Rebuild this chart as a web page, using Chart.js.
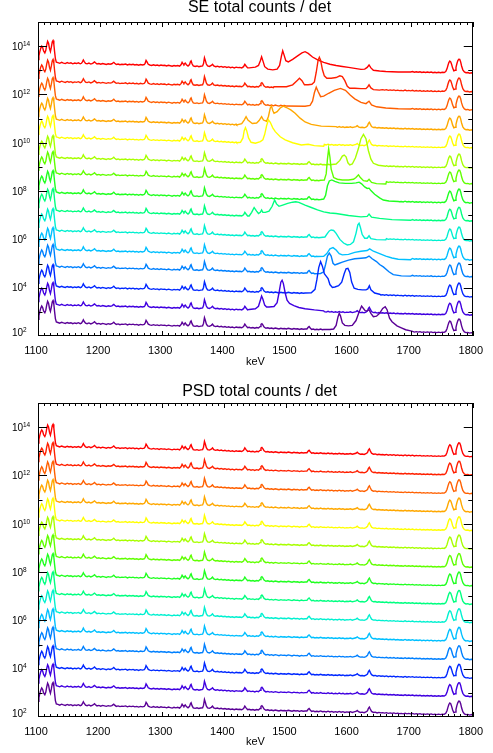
<!DOCTYPE html>
<html><head><meta charset="utf-8">
<script src="https://cdn.jsdelivr.net/npm/chart.js@4.4.1/dist/chart.umd.min.js"></script>
<style>
html,body{margin:0;padding:0;background:#fff;}
#wrap{position:relative;width:493px;height:753px;}
.box{position:absolute;left:0;width:493px;}
</style></head><body>
<div id="wrap">
<div class="box" style="top:0;height:370px"><canvas id="c1" width="493" height="370"></canvas></div>
<div class="box" style="top:370px;height:383px"><canvas id="c2" width="493" height="383"></canvas></div>
</div>
<script>
// ---------- data ----------
// energy grid (keV) of the common spectrum
const keV = [1100,1101.5,1103,1104.5,1106,1107.5,1109,1111,1112.5,1114,1115.5,1117,1118.5,1120,1121.5,1123,1124.2,1125.5,1126.8,1128,1129.5,
1132,1135,1138,1141,1144,1147,1150,1153,1156,1159,1162,1165,1168,1170,1171.5,1173,1174.5,1176.5,1179,1182,1185,1188,1189.5,1191,1192.5,1195,1198,
1201,1204,1207,1210,1213,1216,1219,1220.5,1222,1223.5,1226,1229,1232,1235,1238,1241,1244,1247,1250,1253,1256,1259,1262,1265,1268,1271,1272.5,1274,1275.5,1277.5,1280,1283,1286,1289,1292,1295,1298,
1301,1304,1307,1310,1313,1316,1319,1322,1325,1328,1330.5,1332,1333.5,1335,1337,1339,1341.5,1344,1345.5,1346.5,1348,1350,1353,1356,1359,1362,1365,1366.5,1368,1369.5,1371,1373,1376,1379,1381,1383,1386,1389,1392,1395,1398,
1401,1404,1407,1410,1413,1416,1419,1422,1425,1428,1431,1433,1435,1437.5,1440,1443,1446,1449,1452,1455,1457.5,1459,1460.5,1462,1464,1467,1470,1473,1476,1479,1482,1485,1488,1491,1494,1497,
1500,1503,1506,1509,1512,1515,1518,1521,1524,1527,1530,1533,1535,1536.5,1538,1540.5,1543,1546,1549,1552,1555,1558,1561,1564,1567,1570,1573,1576,1579,1582,1585,1588,1591,1594,1597,
1600,1603,1606,1609,1612,1614,1616,1619,1622,1625,1628,1630.5,1632,1633.5,1635,1637,1640,1643,1646,1649,1652,1655,1658,1661,1664,1667,1670,1673,1676,1679,1682,1685,1688,1691,1694,1697,
1700,1703,1706,1709,1712,1715,1718,1721,1724,1727,1730,1733,1736,1739,1742,1745,1748,1751,1754,1756.5,1758.5,1760,1761.5,1763,1764.5,1766,1767.5,1769.5,1771.5,1773,1774.5,1776,1777.5,1779,1780.5,1782,1784,1786.5,1789,1792,1795,1798,1800];
// log10 offset of the common spectrum relative to each curve's plateau level
const baseShape = [0.15,0.30,0.48,0.62,0.70,0.64,0.50,0.42,0.52,0.74,0.90,0.82,0.60,0.48,0.66,0.88,0.93,0.78,0.45,0.18,0.04,
0.02,-0.01,0.03,0.00,-0.02,0.02,-0.01,0.01,-0.03,0.00,-0.02,0.01,-0.03,-0.01,0.05,0.13,0.06,-0.01,-0.03,0.00,-0.04,-0.01,0.02,0.05,0.01,-0.04,-0.02,
-0.05,-0.02,-0.04,-0.06,-0.03,-0.05,-0.03,0.00,0.03,-0.01,-0.06,-0.04,-0.07,-0.05,-0.06,-0.04,-0.08,-0.05,-0.07,-0.05,-0.08,-0.06,-0.09,-0.06,-0.08,-0.06,-0.01,0.11,0.05,-0.05,-0.08,-0.10,-0.07,-0.10,-0.08,-0.11,-0.08,
-0.10,-0.09,-0.12,-0.09,-0.11,-0.13,-0.10,-0.12,-0.10,-0.13,-0.06,0.03,-0.03,-0.06,0.00,-0.07,-0.12,-0.06,0.06,0.09,-0.03,-0.12,-0.14,-0.12,-0.15,-0.13,-0.12,-0.02,0.22,0.10,-0.04,-0.12,-0.14,-0.10,-0.05,-0.12,-0.15,-0.13,-0.16,-0.14,-0.17,
-0.15,-0.18,-0.16,-0.19,-0.17,-0.20,-0.17,-0.19,-0.18,-0.20,-0.15,-0.05,-0.12,-0.20,-0.18,-0.21,-0.19,-0.22,-0.19,-0.21,-0.15,-0.06,-0.03,-0.08,-0.17,-0.22,-0.20,-0.23,-0.21,-0.24,-0.21,-0.23,-0.25,-0.22,-0.24,-0.23,
-0.25,-0.22,-0.24,-0.26,-0.23,-0.25,-0.24,-0.27,-0.24,-0.26,-0.25,-0.25,-0.18,-0.15,-0.20,-0.27,-0.25,-0.28,-0.26,-0.28,-0.25,-0.28,-0.27,-0.29,-0.26,-0.29,-0.27,-0.30,-0.28,-0.30,-0.27,-0.30,-0.28,-0.31,-0.29,
-0.30,-0.28,-0.31,-0.29,-0.27,-0.23,-0.28,-0.31,-0.30,-0.32,-0.29,-0.24,-0.14,-0.09,-0.17,-0.27,-0.31,-0.30,-0.33,-0.31,-0.33,-0.32,-0.34,-0.32,-0.35,-0.33,-0.35,-0.33,-0.36,-0.34,-0.36,-0.35,-0.37,-0.34,-0.37,-0.35,
-0.37,-0.35,-0.38,-0.36,-0.38,-0.36,-0.39,-0.37,-0.39,-0.37,-0.39,-0.37,-0.40,-0.38,-0.40,-0.38,-0.40,-0.38,-0.39,-0.35,-0.24,-0.10,0.02,0.08,0.05,-0.06,-0.20,-0.32,-0.30,-0.18,-0.02,0.10,0.16,0.15,0.05,-0.12,-0.28,-0.37,-0.40,-0.39,-0.42,-0.40,-0.42];

// plateau level (log10 counts) of each of the 15 detector curves, bottom to top
const seLevels  = [2.54,3.28,4.03,4.86,5.56,6.35,7.17,7.92,8.71,9.37,10.20,10.94,11.77,12.52,13.30];
const psdLevels = [2.50,3.26,4.02,4.79,5.55,6.32,7.08,7.84,8.61,9.37,10.13,10.90,11.66,12.43,13.19];

// extra structure of the SE curves: [keV, log10 offset from plateau], replaces the common spectrum over its span
const seFeatures = [
 [[1560,-0.27],[1570,-0.27],[1576,-0.25],[1580,-0.1],[1583,0.25],[1585,0.4],[1587,0.3],[1590,0.0],[1594,-0.1],[1600,-0.12],[1606,-0.1],[1612,0.1],[1617,0.45],[1621,0.7],[1624,0.6],[1627,0.5],[1630,0.5],[1633,0.55],[1636,0.4],[1640,0.26],[1645,0.28],[1650,0.4],[1655,0.6],[1659,0.67],[1662,0.55],[1666,0.2],[1670,0.05],[1678,-0.12],[1685,-0.2],[1692,-0.28],[1700,-0.33]],
 [[1440,-0.18],[1450,-0.15],[1455,-0.05],[1458,0.2],[1460,0.37],[1462,0.25],[1465,0.0],[1468,-0.08],[1472,-0.08],[1480,-0.06],[1485,0.1],[1488,0.5],[1491,0.95],[1493,1.03],[1495,0.9],[1498,0.5],[1501,0.2],[1505,0.07],[1512,-0.02],[1520,-0.1],[1530,-0.15],[1545,-0.2],[1560,-0.24]],
 [[1530,-0.25],[1540,-0.24],[1546,-0.1],[1549,0.3],[1552,0.8],[1555,1.05],[1558,0.85],[1561,0.55],[1564,0.45],[1567,0.35],[1570,0.1],[1574,-0.02],[1578,0.0],[1584,0.05],[1589,0.2],[1593,0.55],[1596,0.75],[1599,0.77],[1602,0.6],[1605,0.2],[1609,-0.05],[1615,-0.1],[1622,-0.12],[1628,-0.12],[1631,-0.08],[1633.5,0.05],[1636,-0.12],[1642,-0.25],[1650,-0.3]],
 [[1545,-0.28],[1555,-0.27],[1560,-0.2],[1563,0.1],[1566,0.45],[1569,0.57],[1572,0.45],[1575,0.15],[1578,0.08],[1582,0.12],[1590,0.2],[1600,0.28],[1610,0.34],[1620,0.36],[1628,0.38],[1633,0.45],[1638,0.34],[1645,0.22],[1650,0.1],[1656,0.0],[1665,-0.2],[1672,-0.32],[1685,-0.37],[1700,-0.38]],
 [[1550,-0.27],[1560,-0.26],[1565,-0.15],[1570,0.05],[1575,0.1],[1580,0.0],[1585,-0.15],[1590,-0.2],[1600,-0.18],[1610,-0.1],[1620,-0.05],[1630,-0.02],[1634,0.05],[1640,-0.05],[1650,-0.15],[1660,-0.25],[1670,-0.33],[1680,-0.38],[1700,-0.4]],
 [[1555,-0.27],[1562,-0.25],[1566,-0.1],[1569,0.0],[1572,0.04],[1576,0.02],[1580,-0.1],[1586,-0.35],[1592,-0.5],[1598,-0.58],[1603,-0.56],[1608,-0.45],[1612,-0.1],[1615,0.25],[1617,0.32],[1619,0.15],[1622,-0.15],[1626,-0.3],[1630,-0.3],[1633,-0.2],[1636,-0.32],[1645,-0.36],[1660,-0.37]],
 [[1440,-0.2],[1444,-0.05],[1448,0.15],[1452,0.0],[1455,-0.1],[1458,-0.05],[1460,0.05],[1462,-0.05],[1466,-0.05],[1472,0.0],[1477,0.2],[1481,0.46],[1484,0.3],[1488,0.2],[1494,0.25],[1502,0.32],[1510,0.37],[1515,0.39],[1520,0.36],[1530,0.25],[1540,0.15],[1550,0.05],[1560,-0.03],[1570,-0.08],[1580,-0.1],[1600,-0.18],[1620,-0.24],[1630,-0.22],[1633,-0.12],[1637,-0.25],[1650,-0.3],[1670,-0.35],[1700,-0.38]],
 [[1555,-0.27],[1560,-0.25],[1563,-0.1],[1566,0.3],[1569,0.5],[1573,0.54],[1578,0.48],[1585,0.42],[1595,0.4],[1605,0.4],[1612,0.42],[1617,0.45],[1621,0.38],[1626,0.25],[1630,0.19],[1633,0.2],[1636,0.1],[1642,-0.05],[1650,-0.2],[1656,-0.29],[1665,-0.33],[1680,-0.35]],
 [[1555,-0.26],[1561,-0.25],[1564,0.0],[1566,0.6],[1568,1.04],[1570,0.7],[1572,0.2],[1576,-0.15],[1582,-0.22],[1590,-0.25],[1600,-0.25],[1608,-0.22],[1612,-0.15],[1616,-0.04],[1619,-0.15],[1624,-0.28],[1630,-0.3],[1633,-0.22],[1637,-0.35],[1645,-0.4],[1660,-0.42]],
 [[1570,-0.28],[1580,-0.25],[1586,-0.1],[1590,0.08],[1593,0.12],[1596,0.05],[1599,-0.2],[1602,-0.29],[1606,-0.25],[1611,0.0],[1616,0.4],[1620,0.8],[1624,0.98],[1628,0.8],[1632,0.3],[1636,-0.05],[1640,-0.22],[1648,-0.3],[1660,-0.34]],
 [[1420,-0.2],[1426,-0.18],[1430,0.0],[1432,0.3],[1434,0.43],[1436,0.3],[1439,0.0],[1443,-0.18],[1450,-0.22],[1458,-0.15],[1462,-0.08],[1465,0.15],[1468,0.5],[1471,0.75],[1474,0.65],[1478,0.42],[1482,0.26],[1490,0.05],[1498,-0.08],[1510,-0.2],[1524,-0.29],[1535,-0.26],[1545,-0.32],[1560,-0.34]],
 [[1420,-0.2],[1428,-0.15],[1432,0.0],[1435,0.14],[1438,0.0],[1445,-0.14],[1452,-0.12],[1456,-0.02],[1460,0.14],[1463,0.0],[1468,-0.05],[1471,0.15],[1474,0.5],[1476,0.58],[1478,0.4],[1480,0.28],[1485,0.35],[1490,0.5],[1495,0.58],[1500,0.52],[1507,0.42],[1514,0.28],[1522,0.08],[1530,-0.08],[1540,-0.18],[1556,-0.25],[1580,-0.27]],
 [[1500,-0.25],[1530,-0.26],[1538,-0.22],[1542,-0.05],[1545,0.3],[1548,0.53],[1551,0.35],[1555,0.14],[1560,0.16],[1568,0.28],[1577,0.4],[1587,0.48],[1595,0.4],[1603,0.2],[1610,0.05],[1620,-0.1],[1628,-0.15],[1633,-0.05],[1637,-0.2],[1645,-0.28],[1660,-0.33],[1680,-0.36],[1700,-0.37]],
 [[1480,-0.2],[1500,-0.2],[1510,-0.12],[1517,0.05],[1521,0.15],[1525,0.05],[1529,-0.12],[1535,-0.12],[1541,-0.1],[1545,0.0],[1548,0.4],[1551,0.9],[1553,1.02],[1555,0.9],[1558,0.5],[1561,0.25],[1565,0.15],[1572,0.15],[1580,0.18],[1586,0.25],[1590,0.22],[1594,0.05],[1598,-0.18],[1602,-0.26],[1610,-0.26],[1620,-0.28],[1628,-0.28],[1631,-0.2],[1633,-0.12],[1636,-0.25],[1640,-0.32],[1650,-0.34]],
 [[1440,-0.2],[1450,-0.17],[1455,-0.1],[1458,0.1],[1460,0.26],[1462,0.1],[1465,-0.15],[1470,-0.25],[1478,-0.28],[1485,-0.25],[1489,-0.1],[1492,0.3],[1494,0.51],[1496,0.35],[1499,0.1],[1503,0.05],[1510,0.15],[1518,0.3],[1525,0.42],[1530,0.47],[1535,0.4],[1542,0.25],[1551,0.12],[1560,0.03],[1570,-0.05],[1580,-0.1],[1590,-0.14],[1600,-0.18],[1610,-0.22],[1620,-0.26],[1626,-0.25],[1630,-0.18],[1633,-0.08],[1636,-0.2],[1640,-0.3],[1650,-0.33],[1660,-0.35],[1670,-0.36],[1680,-0.37],[1700,-0.37]]
];

const lineColors = ['#5a0096','#4000e0','#0028ff','#0080ff','#00c0ff','#00f0d0','#00ff80','#20ff20','#60ff00','#a8ff00','#ffff00','#ffa800','#ff6000','#ff2000','#ff0000'];
const yExponents = [2,4,6,8,10,12,14];
const panelTitles = ['SE total counts / det','PSD total counts / det'];
const xTitle = 'keV';

// ---------- drawing ----------
const FONT = '"Liberation Sans", Arial, Helvetica, sans-serif';

function buildLine(level, feats) {
  const pts = [];
  const lo = feats.length ? feats[0][0] : Infinity;
  const hi = feats.length ? feats[feats.length-1][0] : -Infinity;
  let inserted = false;
  keV.forEach((e, j) => {
    if (e < lo || e > hi) pts.push({x: e, y: Math.pow(10, level + baseShape[j])});
    else if (!inserted) { feats.forEach(f => pts.push({x: f[0], y: Math.pow(10, level + f[1])})); inserted = true; }
  });
  return pts;
}

const framePlugin = {
  id: 'frame',
  afterDraw(chart) {
    const {ctx, chartArea: a, scales: {x, y}} = chart;
    ctx.save();
    ctx.strokeStyle = '#000';
    ctx.lineWidth = 1;
    ctx.strokeRect(Math.round(a.left) + 0.5, Math.round(a.top) + 0.5, Math.round(a.right - a.left) - 1, Math.round(a.bottom - a.top) - 1);
    ctx.beginPath();
    for (let v = x.min; v <= x.max; v += 10) {
      const px = Math.round(x.getPixelForValue(v)) + 0.5;
      const len = (v % 100 === 0) ? 5 : 3;
      ctx.moveTo(px, a.bottom); ctx.lineTo(px, a.bottom - len);
      ctx.moveTo(px, a.top); ctx.lineTo(px, a.top + len);
    }
    for (let e = 3; e <= 14; e++) {
      const py = Math.round(y.getPixelForValue(Math.pow(10, e))) + 0.5;
      const len = (e % 2 === 0) ? 9 : 4.5;
      ctx.moveTo(a.left, py); ctx.lineTo(a.left + len, py);
      ctx.moveTo(a.right, py); ctx.lineTo(a.right - len, py);
    }
    ctx.stroke();
    ctx.fillStyle = '#000';
    ctx.textBaseline = 'middle';
    yExponents.forEach(e => {
      let py = y.getPixelForValue(Math.pow(10, e));
      if (py > a.bottom - 4) py = a.bottom - 4;
      ctx.font = '10px ' + FONT;
      ctx.textAlign = 'right';
      ctx.fillText('10', a.left - 15, py + 1);
      ctx.font = '6.5px ' + FONT;
      ctx.textAlign = 'left';
      ctx.fillText(String(e), a.left - 15, py - 2);
    });
    ctx.restore();
  }
};

function makeChart(id, title, levels, feats, titlePad, axisH, keVPad) {
  const datasets = levels.map((lv, i) => ({
    data: buildLine(lv, feats ? feats[i] : []),
    borderColor: lineColors[i],
    borderWidth: 1.4,
    pointRadius: 0,
    tension: 0,
    fill: false
  }));
  return new Chart(document.getElementById(id), {
    type: 'line',
    data: {datasets},
    options: {
      responsive: false, animation: false, devicePixelRatio: 1,
      layout: {padding: {left: 38, right: 12, top: 0, bottom: 0}},
      plugins: {
        legend: {display: false}, tooltip: {enabled: false},
        title: {display: true, text: title, color: '#000',
          font: {family: FONT, size: 16, weight: 'normal', lineHeight: 1}, padding: titlePad}
      },
      scales: {
        x: {type: 'linear', min: 1100, max: 1800,
          afterFit: s => { s.height = axisH; },
          grid: {display: false, drawTicks: false}, border: {display: false},
          ticks: {stepSize: 100, autoSkip: false, maxRotation: 0, padding: 8, labelOffset: -2, color: '#000',
            font: {family: FONT, size: 11}, callback: v => String(v)},
          title: {display: true, text: xTitle, color: '#000', font: {family: FONT, size: 11},
            padding: {top: 0, bottom: keVPad}}},
        y: {type: 'logarithmic', min: 1e2, max: 1e15, display: false}
      }
    },
    plugins: [framePlugin]
  });
}

makeChart('c1', panelTitles[0], seLevels, seFeatures, {top: 0, bottom: 6}, 34, 1);
makeChart('c2', panelTitles[1], psdLevels, null, {top: 14, bottom: 3}, 36, 4);
</script>
</body></html>
